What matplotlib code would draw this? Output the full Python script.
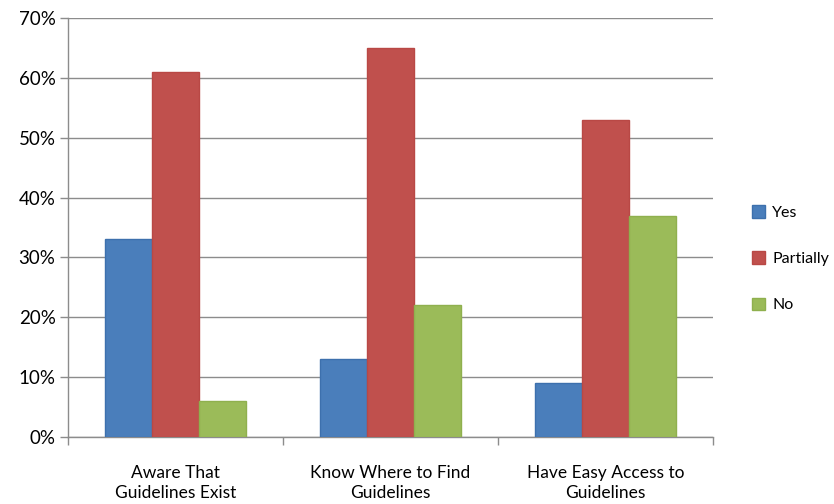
import matplotlib
matplotlib.use("Agg")
import matplotlib.pyplot as plt
import numpy as np
from matplotlib.ticker import FixedLocator, PercentFormatter

categories = ["Aware That\nGuidelines Exist", "Know Where to Find\nGuidelines",
              "Have Easy Access to\nGuidelines"]
series = ["Yes", "Partially", "No"]
yes = [33, 13, 9]
partially = [61, 65, 53]
no = [6, 22, 37]

fills = ["#4A7EBB", "#C0504D", "#9BBB59"]
edges = ["#3D70AD", "#B94845", "#8FB04E"]

plt.rcParams["font.family"] = ["Lato", "DejaVu Sans"]

fig = plt.figure(figsize=(8.34, 5.04), dpi=100)
ax = fig.add_axes([68 / 834, 67 / 504, 645 / 834, 419 / 504])

x = np.arange(len(categories))
w = 0.218
for i, (name, vals) in enumerate(zip(series, [yes, partially, no])):
    ax.bar(x + (i - 1) * w, vals, width=w, color=fills[i], edgecolor=edges[i],
           linewidth=1, label=name, zorder=3)

ax.set_xlim(-0.5, 2.5)
ax.set_ylim(0, 70)
ax.set_yticks(range(0, 71, 10))
ax.yaxis.set_major_formatter(PercentFormatter(decimals=0))
ax.grid(axis="y", color="#8C8C8C", linewidth=1, zorder=0)

ax.set_xticks(x)
ax.set_xticklabels(categories, fontsize=12.5, linespacing=1.32)
ax.xaxis.set_minor_locator(FixedLocator([-0.5, 0.5, 1.5, 2.5]))
ax.tick_params(axis="x", which="major", length=0, pad=20)
ax.tick_params(axis="x", which="minor", length=6, color="#8C8C8C", width=1)
ax.tick_params(axis="y", length=6, color="#8C8C8C", width=1, labelsize=13.5, pad=3)

for s in ["top", "right"]:
    ax.spines[s].set_visible(False)
for s in ["left", "bottom"]:
    ax.spines[s].set_color("#8C8C8C")
    ax.spines[s].set_linewidth(1)

ax.legend(loc="center left", bbox_to_anchor=(1.05, 0.425), frameon=False,
          handlelength=0.85, handleheight=0.85, handletextpad=0.45,
          labelspacing=1.95, fontsize=11.5, borderaxespad=0)

fig.savefig("out.png", dpi=100)
